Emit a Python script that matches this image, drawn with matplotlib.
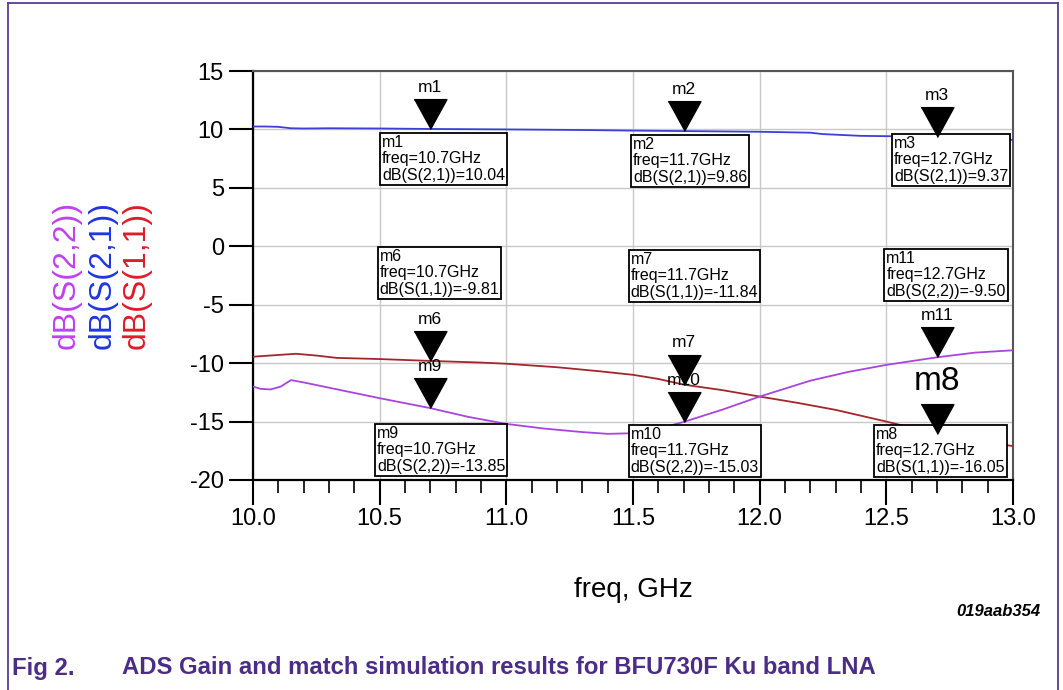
import matplotlib
matplotlib.use('Agg')
import matplotlib.pyplot as plt
from matplotlib.ticker import MultipleLocator, FormatStrFormatter
from matplotlib.lines import Line2D

plt.rcParams['font.family'] = ['Liberation Sans', 'DejaVu Sans']
plt.rcParams['axes.unicode_minus'] = False

# dB(S(2,1)) - gain
f_s21 = [10.0, 10.05, 10.1, 10.15, 10.2, 10.3, 10.5, 10.7, 11.0, 11.3, 11.5, 11.7,
         12.0, 12.2, 12.25, 12.4, 12.7, 12.85, 13.0]
s21 = [10.25, 10.25, 10.22, 10.1, 10.08, 10.1, 10.08, 10.04, 10.0, 9.95, 9.9, 9.86,
       9.8, 9.72, 9.6, 9.45, 9.37, 9.3, 9.1]

# dB(S(1,1)) - input match
f_s11 = [10.0, 10.1, 10.17, 10.25, 10.33, 10.5, 10.7, 10.9, 11.0, 11.2, 11.37, 11.5,
         11.6, 11.7, 11.85, 12.0, 12.15, 12.3, 12.5, 12.7, 12.85, 13.0]
s11 = [-9.45, -9.3, -9.2, -9.35, -9.55, -9.65, -9.81, -9.95, -10.05, -10.35, -10.7, -11.0,
       -11.35, -11.84, -12.3, -12.86, -13.4, -14.0, -15.0, -16.05, -16.6, -17.1]

# dB(S(2,2)) - output match
f_s22 = [10.0, 10.03, 10.07, 10.11, 10.15, 10.2, 10.3, 10.5, 10.7, 10.85, 11.0, 11.15,
         11.3, 11.4, 11.5, 11.57, 11.62, 11.7, 11.85, 12.0, 12.2, 12.35, 12.5, 12.7,
         12.85, 13.0]
s22 = [-12.0, -12.2, -12.25, -12.0, -11.45, -11.65, -12.1, -13.0, -13.85, -14.6, -15.2,
       -15.6, -15.9, -16.05, -16.0, -15.75, -15.5, -15.03, -14.0, -12.86, -11.5, -10.75,
       -10.15, -9.5, -9.1, -8.9]

# markers: name, freq, value, trace label
mk_names = ['m1', 'm2', 'm3', 'm6', 'm7', 'm11', 'm9', 'm10', 'm8']
mk_freq = [10.7, 11.7, 12.7, 10.7, 11.7, 12.7, 10.7, 11.7, 12.7]
mk_val = [10.04, 9.86, 9.37, -9.81, -11.84, -9.50, -13.85, -15.03, -16.05]
mk_trace = ['S(2,1)', 'S(2,1)', 'S(2,1)', 'S(1,1)', 'S(1,1)', 'S(2,2)', 'S(2,2)', 'S(2,2)', 'S(1,1)']

# readout box top-left corners (data coords)
box_xy = {'m1': (10.51, 9.53), 'm2': (11.50, 9.35), 'm3': (12.53, 9.44),
          'm6': (10.50, -0.23), 'm7': (11.49, -0.48), 'm11': (12.50, -0.40),
          'm9': (10.49, -15.37), 'm10': (11.49, -15.45), 'm8': (12.46, -15.45)}

c_s22 = '#a745e0'
c_s21 = '#3b3fd6'
c_s11 = '#a3262c'
purple = '#4b2c86'

fig = plt.figure(figsize=(10.63, 6.90), dpi=100)
ax = fig.add_axes([253 / 1063, 1 - 480 / 690, 760 / 1063, 409 / 690])

ax.plot(f_s21, s21, color=c_s21, lw=1.3, zorder=3)
ax.plot(f_s11, s11, color=c_s11, lw=1.3, zorder=3)
ax.plot(f_s22, s22, color=c_s22, lw=1.3, zorder=3)

ax.set_xlim(10.0, 13.0)
ax.set_ylim(-20, 15)
ax.xaxis.set_major_locator(MultipleLocator(0.5))
ax.xaxis.set_minor_locator(MultipleLocator(0.1))
ax.xaxis.set_major_formatter(FormatStrFormatter('%.1f'))
ax.yaxis.set_major_locator(MultipleLocator(5))
ax.grid(True, which='major', color='#c8c8c8', lw=1.0, zorder=0)
ax.tick_params(axis='y', which='major', length=17, width=1.5, pad=4, labelsize=17)
ax.tick_params(axis='x', which='major', length=18, width=1.5, pad=2, labelsize=17)
ax.tick_params(axis='x', which='minor', length=9.5, width=1.2)
for s in ['left', 'bottom']:
    ax.spines[s].set_linewidth(1.6)
    ax.spines[s].set_color('black')
for s in ['top', 'right']:
    ax.spines[s].set_linewidth(1.5)
    ax.spines[s].set_color('#555555')

ax.set_xlabel('freq, GHz', fontsize=20, labelpad=34)

# marker triangles with tip on the trace
tri = [(-0.55, 1.0), (0.55, 1.0), (0.0, 0.0)]
for name, f, v, tr in zip(mk_names, mk_freq, mk_val, mk_trace):
    ax.plot([f], [v], marker=tri, markersize=43, color='black', ls='none', zorder=5)
    if name == 'm8':
        ax.annotate(name, (f, v), xytext=(0, 38), textcoords='offset points',
                    ha='center', va='center', fontsize=24, zorder=6)
    else:
        ax.annotate(name, (f, v), xytext=(0, 30), textcoords='offset points',
                    ha='center', va='center', fontsize=12.5, zorder=6)
    bx, by = box_xy[name]
    txt = '{}\nfreq={:.1f}GHz\ndB({})={:.2f}'.format(name, f, tr, v)
    ax.text(bx, by, txt, ha='left', va='top', fontsize=11.5, linespacing=1.12,
            zorder=4, bbox=dict(boxstyle='square,pad=0.12', fc='white', ec='black', lw=1.3))

# coloured y labels
fig.text(67 / 1063, 1 - 275 / 690, 'dB(S(2,2))', rotation=90, color='#c040f0',
         fontsize=23, ha='center', va='center')
fig.text(103 / 1063, 1 - 275 / 690, 'dB(S(2,1))', rotation=90, color='#1f35e0',
         fontsize=23, ha='center', va='center')
fig.text(137 / 1063, 1 - 275 / 690, 'dB(S(1,1))', rotation=90, color='#e01b2a',
         fontsize=23, ha='center', va='center')

fig.text(1040 / 1063, 1 - 611 / 690, '019aab354', ha='right', va='center',
         fontsize=12, style='italic', weight='bold')

fig.text(12 / 1063, 1 - 668 / 690, 'Fig 2.', ha='left', va='center', fontsize=17.2,
         weight='bold', color=purple)
fig.text(122 / 1063, 1 - 668 / 690, 'ADS Gain and match simulation results for BFU730F Ku band LNA',
         ha='left', va='center', fontsize=17.2, weight='bold', color=purple)

# page frame
fc = '#5a3c94'
fig.add_artist(Line2D([8 / 1063, 8 / 1063], [0, 1 - 3 / 690], color=fc, lw=1.3))
fig.add_artist(Line2D([8 / 1063, 1058 / 1063], [1 - 3 / 690, 1 - 3 / 690], color=fc, lw=1.3))
fig.add_artist(Line2D([1058 / 1063, 1058 / 1063], [0, 1 - 3 / 690], color=fc, lw=1.3))

fig.savefig('out.png', dpi=100)
